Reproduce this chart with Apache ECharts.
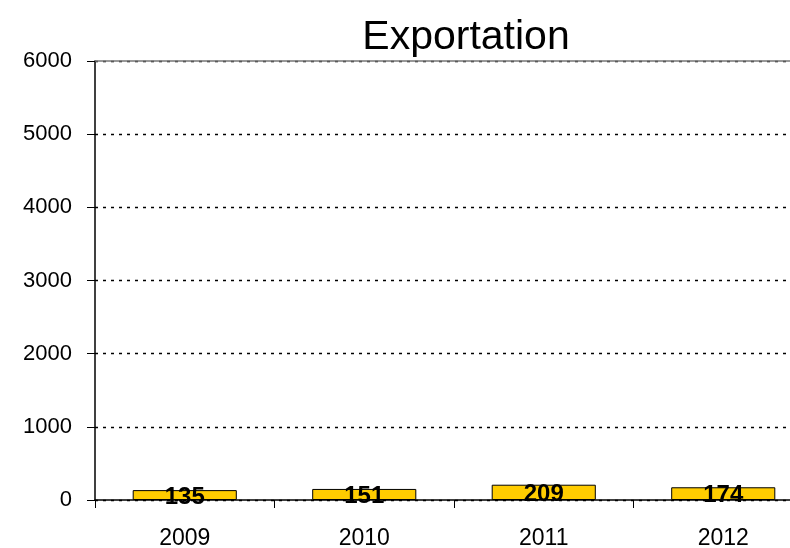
<!DOCTYPE html>
<html><head><meta charset="utf-8">
<script src="https://cdn.jsdelivr.net/npm/echarts@6/dist/echarts.min.js"></script>
<style>html,body{margin:0;padding:0;background:#fff}#c{width:790px;height:548px}</style>
</head><body><div id="c"></div>
<script>
const categories = ['2009', '2010', '2011', '2012'];
const exportValues = [135, 151, 209, 174];
const yTicks = [0, 1000, 2000, 3000, 4000, 5000, 6000];
const chart = echarts.init(document.getElementById('c'), null, {renderer: 'canvas'});
const FONT = '"Liberation Sans", Arial, sans-serif';
chart.setOption({
  animation: false,
  backgroundColor: '#fff',
  title: {
    text: 'Exportation', left: 461, top: 12, textAlign: 'center',
    textStyle: {fontFamily: FONT, fontSize: 41, fontWeight: 'normal', color: '#000'}
  },
  grid: {left: 95, top: 61, width: 718, bottom: 48, containLabel: false, outerBoundsMode: 'none'},
  xAxis: [{
    type: 'category', data: categories, position: 'bottom',
    axisLine: {lineStyle: {color: '#000', width: 1.5}},
    axisTick: {show: true, length: 8, alignWithLabel: false, lineStyle: {color: '#000'}},
    axisLabel: {margin: 27, fontFamily: FONT, fontSize: 23, color: '#000'},
    splitLine: {show: false}
  }, {
    type: 'category', data: categories, position: 'top',
    axisLine: {lineStyle: {color: '#777', width: 1.5}},
    axisTick: {show: false}, axisLabel: {show: false}
  }],
  yAxis: {
    type: 'value', min: yTicks[0], max: yTicks[yTicks.length - 1], interval: 1000,
    axisLine: {show: true, lineStyle: {color: '#000', width: 1.5}},
    axisTick: {show: true, length: 8, lineStyle: {color: '#000'}},
    axisLabel: {margin: 23, fontFamily: FONT, fontSize: 22, color: '#000', formatter: v => String(v)},
    splitLine: {show: true, lineStyle: {color: '#000', type: [3, 5], width: 1.3}}
  },
  series: [{
    type: 'bar', data: exportValues, barWidth: '58%',
    itemStyle: {color: '#FFCC00', borderColor: '#000', borderWidth: 1},
    label: {
      show: true, position: 'inside', offset: [0, 2],
      fontFamily: FONT, fontSize: 24, fontWeight: 'bold', color: '#000'
    }
  }]
});
</script></body></html>
